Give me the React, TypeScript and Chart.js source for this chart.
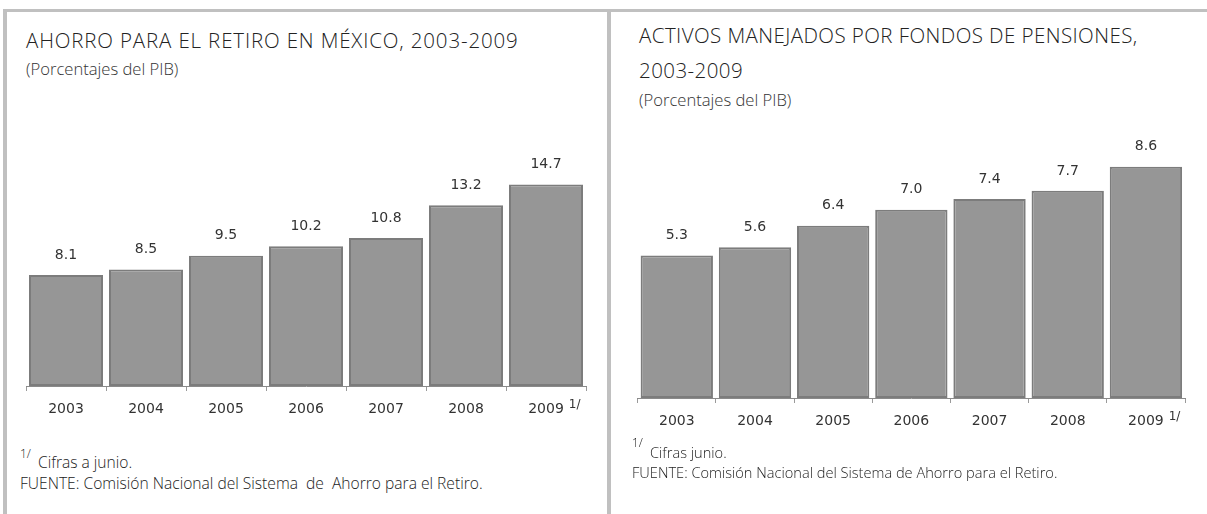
import React, { useEffect, useRef } from 'react';
import { Chart, registerables } from 'chart.js';

Chart.register(...registerables);

// ---- data ----
const years = ['2003', '2004', '2005', '2006', '2007', '2008', '2009'];
const ahorroValues = [8.1, 8.5, 9.5, 10.2, 10.8, 13.2, 14.7];
const activosValues = [5.3, 5.6, 6.4, 7.0, 7.4, 7.7, 8.6];
const noteYearIndex = 6;
const noteMark = '1/';

const leftTitle = 'AHORRO PARA EL RETIRO EN MÉXICO, 2003-2009';
const rightTitleLines = ['ACTIVOS MANEJADOS POR FONDOS DE PENSIONES,', '2003-2009'];
const subtitle = '(Porcentajes del PIB)';
const leftNote = 'Cifras a junio.';
const rightNote = 'Cifras junio.';
const leftSource = 'FUENTE: Comisión Nacional del Sistema  de  Ahorro para el Retiro.';
const rightSource = 'FUENTE: Comisión Nacional del Sistema de Ahorro para el Retiro.';

// ---- styles ----
const BAR_FILL = '#969696';
const BAR_BORDER = '#7c7c7c';
const FRAME = '#c0c0c0';
const TEXT = '#222222';
const CHART_FONT = '"DejaVu Sans", sans-serif';
const HTML_FONT = '"Open Sans", sans-serif';
const TICK_LEN = 5;
const TICK_PAD = 10;
const TICK_FONT_SIZE = 14;

const valueLabelPlugin = {
  id: 'valueLabels',
  afterDatasetsDraw(chart: any) {
    const ctx = chart.ctx;
    const meta = chart.getDatasetMeta(0);
    const data = chart.data.datasets[0].data as number[];
    ctx.save();
    ctx.font = `14px ${CHART_FONT}`;
    ctx.fillStyle = '#333333';
    ctx.textAlign = 'center';
    ctx.textBaseline = 'middle';
    meta.data.forEach((bar: any, i: number) => {
      ctx.fillText(Number(data[i]).toFixed(1), bar.x, bar.y - 20);
    });
    // footnote mark next to last tick label
    const xs = chart.scales.x;
    const xp = xs.getPixelForTick(noteYearIndex);
    ctx.font = `${TICK_FONT_SIZE}px ${CHART_FONT}`;
    const w = ctx.measureText(String(chart.data.labels[noteYearIndex])).width;
    const labelCenterY = xs.top + TICK_LEN + TICK_PAD + (TICK_FONT_SIZE * 1.2) / 2;
    ctx.font = `12px ${CHART_FONT}`;
    ctx.textAlign = 'left';
    ctx.fillText(noteMark, xp + w / 2 + 5, labelCenterY - 5);
    ctx.restore();
  },
};

function makeConfig(values: number[], yMax: number, padLeft: number, padRight: number): any {
  return {
    type: 'bar',
    data: {
      labels: years,
      datasets: [
        {
          data: values,
          backgroundColor: BAR_FILL,
          borderColor: BAR_BORDER,
          borderWidth: 2,
          borderSkipped: false,
          barPercentage: 0.925,
          categoryPercentage: 1.0,
        },
      ],
    },
    options: {
      animation: false,
      responsive: false,
      maintainAspectRatio: false,
      devicePixelRatio: 1,
      layout: { padding: { left: padLeft, right: padRight, top: 0, bottom: 0 } },
      plugins: {
        legend: { display: false },
        tooltip: { enabled: false },
        title: { display: false },
      },
      scales: {
        x: {
          offset: true,
          grid: {
            offset: true,
            drawOnChartArea: false,
            drawTicks: true,
            tickLength: TICK_LEN,
            color: '#9a9a9a',
          },
          border: { display: true, color: '#8a8a8a', width: 1 },
          ticks: {
            padding: TICK_PAD,
            color: '#333333',
            font: { family: CHART_FONT, size: TICK_FONT_SIZE },
            maxRotation: 0,
            autoSkip: false,
          },
          afterFit: (s: any) => {
            s.height = 40;
          },
        },
        y: {
          display: false,
          min: 0,
          max: yMax,
          grid: { display: false },
        },
      },
    },
    plugins: [valueLabelPlugin],
  };
}

function BarCanvas(props: {
  values: number[];
  yMax: number;
  left: number;
  top: number;
  width: number;
  height: number;
  padLeft: number;
  padRight: number;
}) {
  const ref = useRef<HTMLCanvasElement | null>(null);
  useEffect(() => {
    if (!ref.current) return;
    const chart = new Chart(ref.current, makeConfig(props.values, props.yMax, props.padLeft, props.padRight));
    return () => chart.destroy();
  }, []);
  return (
    <canvas
      ref={ref}
      width={props.width}
      height={props.height}
      style={{ position: 'absolute', left: props.left, top: props.top, width: props.width, height: props.height }}
    />
  );
}

const abs = (left: number, top: number, extra: React.CSSProperties = {}): React.CSSProperties => ({
  position: 'absolute',
  left,
  top,
  margin: 0,
  whiteSpace: 'pre',
  fontFamily: HTML_FONT,
  fontWeight: 300,
  color: TEXT,
  ...extra,
});

export default function App() {
  const titleStyle = { fontSize: 20.5, lineHeight: '22px', letterSpacing: '0.85px' };
  const subStyle = { fontSize: 16.6, lineHeight: '20px', color: '#333333' };
  const supStyle = { fontSize: 12, lineHeight: '12px' };
  return (
    <div style={{ position: 'relative', width: 1207, height: 514, overflow: 'hidden', background: '#ffffff' }}>
      <style>{'body{margin:0;}'}</style>
      {/* frame */}
      <div style={{ position: 'absolute', left: 3, top: 9, width: 1204, height: 3, background: FRAME }} />
      <div style={{ position: 'absolute', left: 3, top: 9, width: 4, height: 505, background: FRAME }} />
      <div style={{ position: 'absolute', left: 607, top: 9, width: 4, height: 505, background: FRAME }} />

      {/* left panel */}
      <div style={abs(26, 29, titleStyle)}>{leftTitle}</div>
      <div style={abs(26, 59, subStyle)}>{subtitle}</div>
      <BarCanvas values={ahorroValues} yMax={20} left={16} top={112} width={584} height={314} padLeft={10} padRight={14} />
      <div style={abs(20, 448, supStyle)}>{noteMark}</div>
      <div style={abs(38, 452, { fontSize: 15.6, lineHeight: '20px' })}>{leftNote}</div>
      <div style={abs(20, 473, { fontSize: 15.6, lineHeight: '20px' })}>{leftSource}</div>

      {/* right panel */}
      <div style={abs(639, 18, { ...titleStyle, lineHeight: '35px', letterSpacing: '0.43px' })}>
        {rightTitleLines[0]}
        <br />
        {rightTitleLines[1]}
      </div>
      <div style={abs(639, 90, subStyle)}>{subtitle}</div>
      <BarCanvas values={activosValues} yMax={10} left={627} top={129} width={580} height={309} padLeft={10.7} padRight={22} />
      <div style={abs(632, 437, supStyle)}>{noteMark}</div>
      <div style={abs(650, 442, { fontSize: 14.6, lineHeight: '20px' })}>{rightNote}</div>
      <div style={abs(632, 462, { fontSize: 14.6, lineHeight: '20px' })}>{rightSource}</div>
    </div>
  );
}
